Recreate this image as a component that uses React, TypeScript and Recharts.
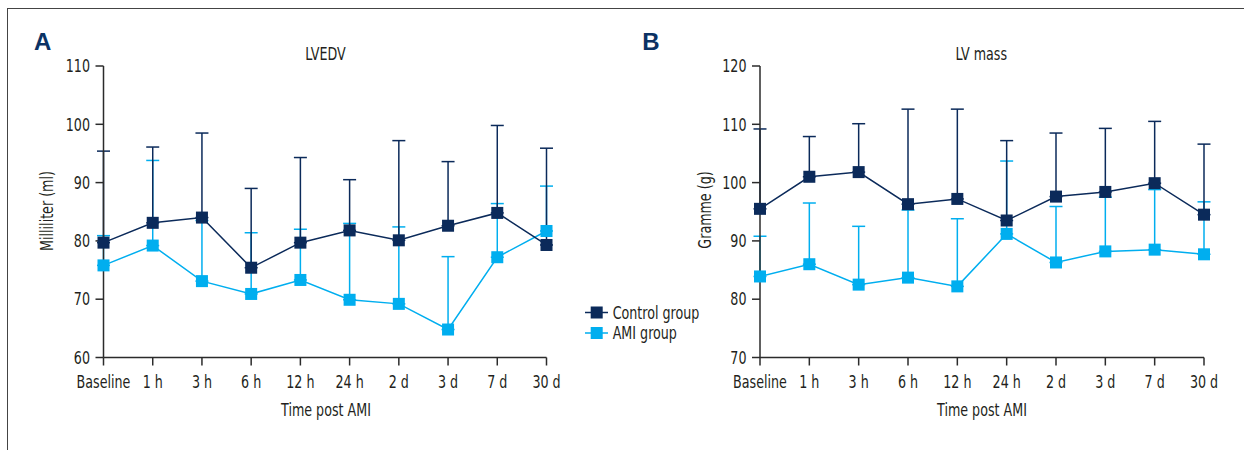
import React from 'react';
import { LineChart, Line, XAxis, YAxis, ErrorBar } from 'recharts';

const timePoints = ['Baseline', '1 h', '3 h', '6 h', '12 h', '24 h', '2 d', '3 d', '7 d', '30 d'];

const lvedvControl = [79.7, 83.1, 84.0, 75.4, 79.7, 81.8, 80.1, 82.6, 84.8, 79.3];
const lvedvControlSD = [15.7, 13.0, 14.5, 13.6, 14.6, 8.7, 17.1, 11.0, 15.0, 16.6];
const lvedvAMI = [75.8, 79.2, 73.1, 70.9, 73.3, 69.9, 69.2, 64.8, 77.2, 81.7];
const lvedvAMISD = [5.1, 14.6, 10.4, 10.5, 8.7, 13.1, 13.2, 12.5, 9.2, 7.7];

const massControl = [95.5, 101.0, 101.8, 96.3, 97.2, 93.5, 97.6, 98.4, 99.9, 94.5];
const massControlSD = [13.7, 6.9, 8.3, 16.3, 15.4, 13.7, 10.9, 10.9, 10.6, 12.1];
const massAMI = [83.9, 86.0, 82.5, 83.7, 82.2, 91.2, 86.3, 88.2, 88.5, 87.7];
const massAMISD = [6.9, 10.5, 10.0, 11.6, 11.6, 12.5, 9.6, 9.3, 10.3, 9.0];

const lvedvTicks = [60, 70, 80, 90, 100, 110];
const massTicks = [70, 80, 90, 100, 110, 120];

const NAVY = '#0b2a5a';
const CYAN = '#00aeef';
const INK = '#231f20';
const AXIS = '#2b2b2b';
const FONT = '"DejaVu Sans Condensed", "DejaVu Sans", sans-serif';
const FS = 17;
const SX = 0.83;

function build(ctrl: number[], ctrlSD: number[], ami: number[], amiSD: number[]) {
  return timePoints.map((t, i) => ({
    t,
    ctrl: ctrl[i],
    ctrlErr: [0, ctrlSD[i]],
    ami: ami[i],
    amiErr: [0, amiSD[i]],
  }));
}

const lvedvData = build(lvedvControl, lvedvControlSD, lvedvAMI, lvedvAMISD);
const massData = build(massControl, massControlSD, massAMI, massAMISD);

function Txt(props: { x: number; y: number; anchor?: string; rotate?: boolean; size?: number; children: any }) {
  const { x, y, anchor = 'middle', rotate = false, size = FS, children } = props;
  return (
    <g transform={`translate(${x},${y})${rotate ? ' rotate(-90)' : ''}`}>
      <text
        transform={`scale(${SX},1)`}
        textAnchor={anchor as any}
        fontSize={size}
        fill={INK}
        fontFamily={FONT}
        style={{ fontStretch: 'condensed' }}
      >
        {children}
      </text>
    </g>
  );
}

function XTick(props: any) {
  const { x, y, payload } = props;
  return <Txt x={x} y={y + 20}>{payload.value}</Txt>;
}

function YTick(props: any) {
  const { x, y, payload } = props;
  return <Txt x={x} y={y + 6.2} anchor="end">{payload.value}</Txt>;
}

const makeDot = (color: string) => (p: any) => (
  <rect key={`d-${p.index}`} x={p.cx - 6} y={p.cy - 6} width={12} height={12} fill={color} />
);

function Panel(props: { data: any[]; ticks: number[]; width: number; margin: any }) {
  const { data, ticks, width, margin } = props;
  return (
    <LineChart width={width} height={450} data={data} margin={margin}>
      <XAxis
        dataKey="t"
        height={30}
        padding={{ left: 0, right: 0 }}
        interval={0}
        tickSize={8}
        tickMargin={2}
        tick={<XTick />}
        axisLine={{ stroke: AXIS, strokeWidth: 1.5 }}
        tickLine={{ stroke: AXIS, strokeWidth: 1.5 }}
      />
      <YAxis
        type="number"
        domain={[ticks[0], ticks[ticks.length - 1]]}
        ticks={ticks}
        interval={0}
        width={60}
        tickSize={8}
        tickMargin={5.5}
        tick={<YTick />}
        axisLine={{ stroke: AXIS, strokeWidth: 1.5 }}
        tickLine={{ stroke: AXIS, strokeWidth: 1.5 }}
        allowDataOverflow
      />
      <Line
        dataKey="ami"
        stroke={CYAN}
        strokeWidth={1.5}
        dot={makeDot(CYAN)}
        activeDot={false}
        isAnimationActive={false}
      >
        <ErrorBar dataKey="amiErr" width={6.5} stroke={CYAN} strokeWidth={1.5} direction="y" isAnimationActive={false} />
      </Line>
      <Line
        dataKey="ctrl"
        stroke={NAVY}
        strokeWidth={1.5}
        dot={makeDot(NAVY)}
        activeDot={false}
        isAnimationActive={false}
      >
        <ErrorBar dataKey="ctrlErr" width={6.5} stroke={NAVY} strokeWidth={1.5} direction="y" isAnimationActive={false} />
      </Line>
    </LineChart>
  );
}

export default function App() {
  return (
    <div style={{ position: 'absolute', left: 0, top: 0, width: 1244, height: 450, background: '#fff', overflow: 'hidden' }}>
      <div style={{ position: 'absolute', left: 0, top: 0 }}>
        <Panel data={lvedvData} ticks={lvedvTicks} width={620} margin={{ top: 66, right: 73.5, bottom: 62.5, left: 43.5 }} />
      </div>
      <div style={{ position: 'absolute', left: 620, top: 0 }}>
        <Panel data={massData} ticks={massTicks} width={624} margin={{ top: 66, right: 40, bottom: 62.5, left: 80 }} />
      </div>
      <svg width={1244} height={450} style={{ position: 'absolute', left: 0, top: 0, pointerEvents: 'none' }}>
        <line x1={7} y1={8.5} x2={1244} y2={8.5} stroke="#444" strokeWidth={1} />
        <line x1={7.5} y1={8} x2={7.5} y2={450} stroke="#444" strokeWidth={1} />

        <text x={42.7} y={50} textAnchor="middle" fontSize={24} fontWeight="bold" fill="#0b3264" fontFamily='"Liberation Sans", Arial, sans-serif'>A</text>
        <text x={650.8} y={50} textAnchor="middle" fontSize={24} fontWeight="bold" fill="#0b3264" fontFamily='"Liberation Sans", Arial, sans-serif'>B</text>

        <Txt x={325.4} y={59.5}>LVEDV</Txt>
        <Txt x={981.3} y={59.5}>LV mass</Txt>

        <Txt x={326} y={415.5}>Time post AMI</Txt>
        <Txt x={982} y={415.5}>Time post AMI</Txt>

        <Txt x={53} y={211} rotate>Milliliter (ml)</Txt>
        <Txt x={711} y={210} rotate>Gramme (g)</Txt>

        <line x1={585} y1={312.5} x2={608} y2={312.5} stroke={NAVY} strokeWidth={1.5} />
        <rect x={590.7} y={306.5} width={12} height={12} fill={NAVY} />
        <Txt x={612.7} y={318.5} anchor="start">Control group</Txt>
        <line x1={585} y1={333} x2={608} y2={333} stroke={CYAN} strokeWidth={1.5} />
        <rect x={590.7} y={327} width={12} height={12} fill={CYAN} />
        <Txt x={612.7} y={339} anchor="start">AMI group</Txt>
      </svg>
    </div>
  );
}
